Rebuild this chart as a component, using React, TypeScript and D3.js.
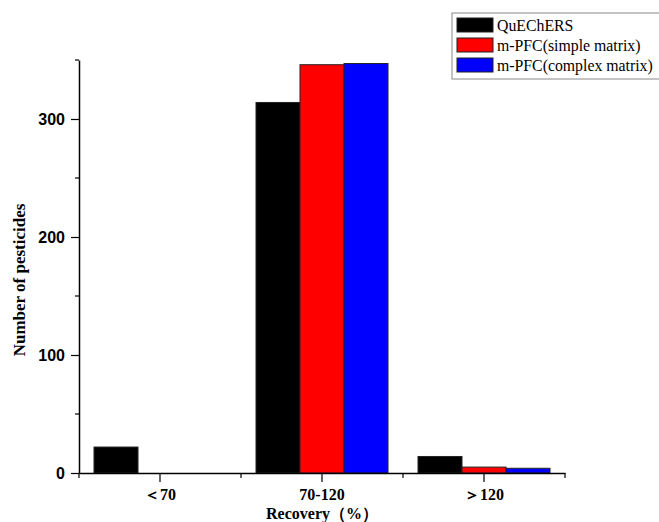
import React from "react";
import { useEffect, useRef } from "react";
import * as d3 from "d3";

const categories = ["＜70", "70-120", "＞120"];
const seriesNames = ["QuEChERS", "m-PFC(simple matrix)", "m-PFC(complex matrix)"];
const seriesColors = ["#000000", "#ff0000", "#0000ff"];
const quechers = [22, 314, 14];
const simpleMatrix = [0, 346, 5];
const complexMatrix = [0, 347, 4];
const yMajorTicks = [0, 100, 200, 300];
const yMinorTicks = [50, 150, 250, 350];

const App = () => {
  const ref = useRef<SVGSVGElement>(null);

  useEffect(() => {
    const width = 659;
    const height = 522;
    const marginLeft = 79;
    const marginRight = 94;
    const marginTop = 60;
    const marginBottom = 49;
    const serif = "'Liberation Serif', 'Times New Roman', serif";

    const svg = d3.select(ref.current);
    svg.selectAll("*").remove();

    const x = d3
      .scaleBand()
      .domain(categories)
      .range([marginLeft, width - marginRight])
      .padding(0);

    const y = d3
      .scaleLinear()
      .domain([0, 350])
      .range([height - marginBottom, marginTop]);

    const series = [quechers, simpleMatrix, complexMatrix];
    const barW = 44;

    // bars
    series.forEach((vals, si) => {
      svg
        .append("g")
        .selectAll()
        .data(vals)
        .join("rect")
        .attr("x", (d, i) => x(categories[i])! + x.bandwidth() / 2 - 1.5 * barW + si * barW)
        .attr("width", barW)
        .attr("y", (d) => y(d))
        .attr("height", (d) => y(0) - y(d))
        .attr("fill", seriesColors[si])
        .attr("stroke", (d) => (d > 0 ? "#222" : "none"))
        .attr("stroke-width", 1);
    });

    // x axis
    const gx = svg
      .append("g")
      .attr("transform", `translate(0,${y(0)})`)
      .call(d3.axisBottom(x).tickSize(9).tickSizeOuter(0).tickPadding(7));
    gx.select(".domain").attr("stroke", "#000").attr("stroke-width", 1.5);
    gx.selectAll(".tick line").attr("stroke-width", 1.2);
    gx.selectAll(".tick text")
      .attr("font-family", serif)
      .attr("font-weight", "bold")
      .attr("font-size", 16)
      .attr("fill", "#000");
    // minor x ticks at band edges
    const edges = [...categories.map((c) => x(c)!), x(categories[2])! + x.bandwidth()];
    svg
      .append("g")
      .selectAll()
      .data(edges)
      .join("line")
      .attr("x1", (d) => d)
      .attr("x2", (d) => d)
      .attr("y1", y(0))
      .attr("y2", y(0) + 5)
      .attr("stroke", "#000")
      .attr("stroke-width", 1.2);

    // y axis
    const gy = svg
      .append("g")
      .attr("transform", `translate(${marginLeft},0)`)
      .call(d3.axisLeft(y).tickValues(yMajorTicks).tickSize(8).tickSizeOuter(0).tickPadding(6));
    gy.select(".domain").attr("stroke", "#000").attr("stroke-width", 1.5);
    gy.selectAll(".tick line").attr("stroke-width", 1.2);
    gy.selectAll(".tick text")
      .attr("font-family", "'Liberation Sans', Arial, sans-serif")
      .attr("font-weight", "bold")
      .attr("font-size", 16)
      .attr("fill", "#000");
    svg
      .append("g")
      .selectAll()
      .data(yMinorTicks)
      .join("line")
      .attr("x1", marginLeft - 4)
      .attr("x2", marginLeft)
      .attr("y1", (d) => y(d))
      .attr("y2", (d) => y(d))
      .attr("stroke", "#000")
      .attr("stroke-width", 1.2);

    // axis titles
    svg
      .append("text")
      .attr("x", (marginLeft + width - marginRight) / 2)
      .attr("y", 519)
      .attr("text-anchor", "middle")
      .attr("font-family", serif)
      .attr("font-weight", "bold")
      .attr("font-size", 16)
      .text("Recovery（%）");

    svg
      .append("text")
      .attr("transform", `translate(25,${280}) rotate(-90)`)
      .attr("text-anchor", "middle")
      .attr("font-family", serif)
      .attr("font-weight", "bold")
      .attr("font-size", 17)
      .text("Number of pesticides");

    // legend
    const lg = svg.append("g").attr("transform", "translate(452,13)");
    lg.append("rect")
      .attr("x", 0)
      .attr("y", 0)
      .attr("width", 220)
      .attr("height", 66)
      .attr("fill", "#fff")
      .attr("stroke", "#888")
      .attr("stroke-width", 1);
    seriesNames.forEach((name, i) => {
      lg.append("rect")
        .attr("x", 5)
        .attr("y", 5 + i * 20)
        .attr("width", 36)
        .attr("height", 14)
        .attr("fill", seriesColors[i])
        .attr("stroke", "#222");
      lg.append("text")
        .attr("x", 45)
        .attr("y", 18 + i * 20)
        .attr("font-family", serif)
        .attr("font-size", 15.8)
        .attr("fill", "#000")
        .text(name);
    });
  }, []);

  return (
    <svg
      ref={ref}
      width={659}
      height={522}
      style={{ position: "absolute", left: 0, top: 0, background: "#fff" }}
    ></svg>
  );
};

export default App;
